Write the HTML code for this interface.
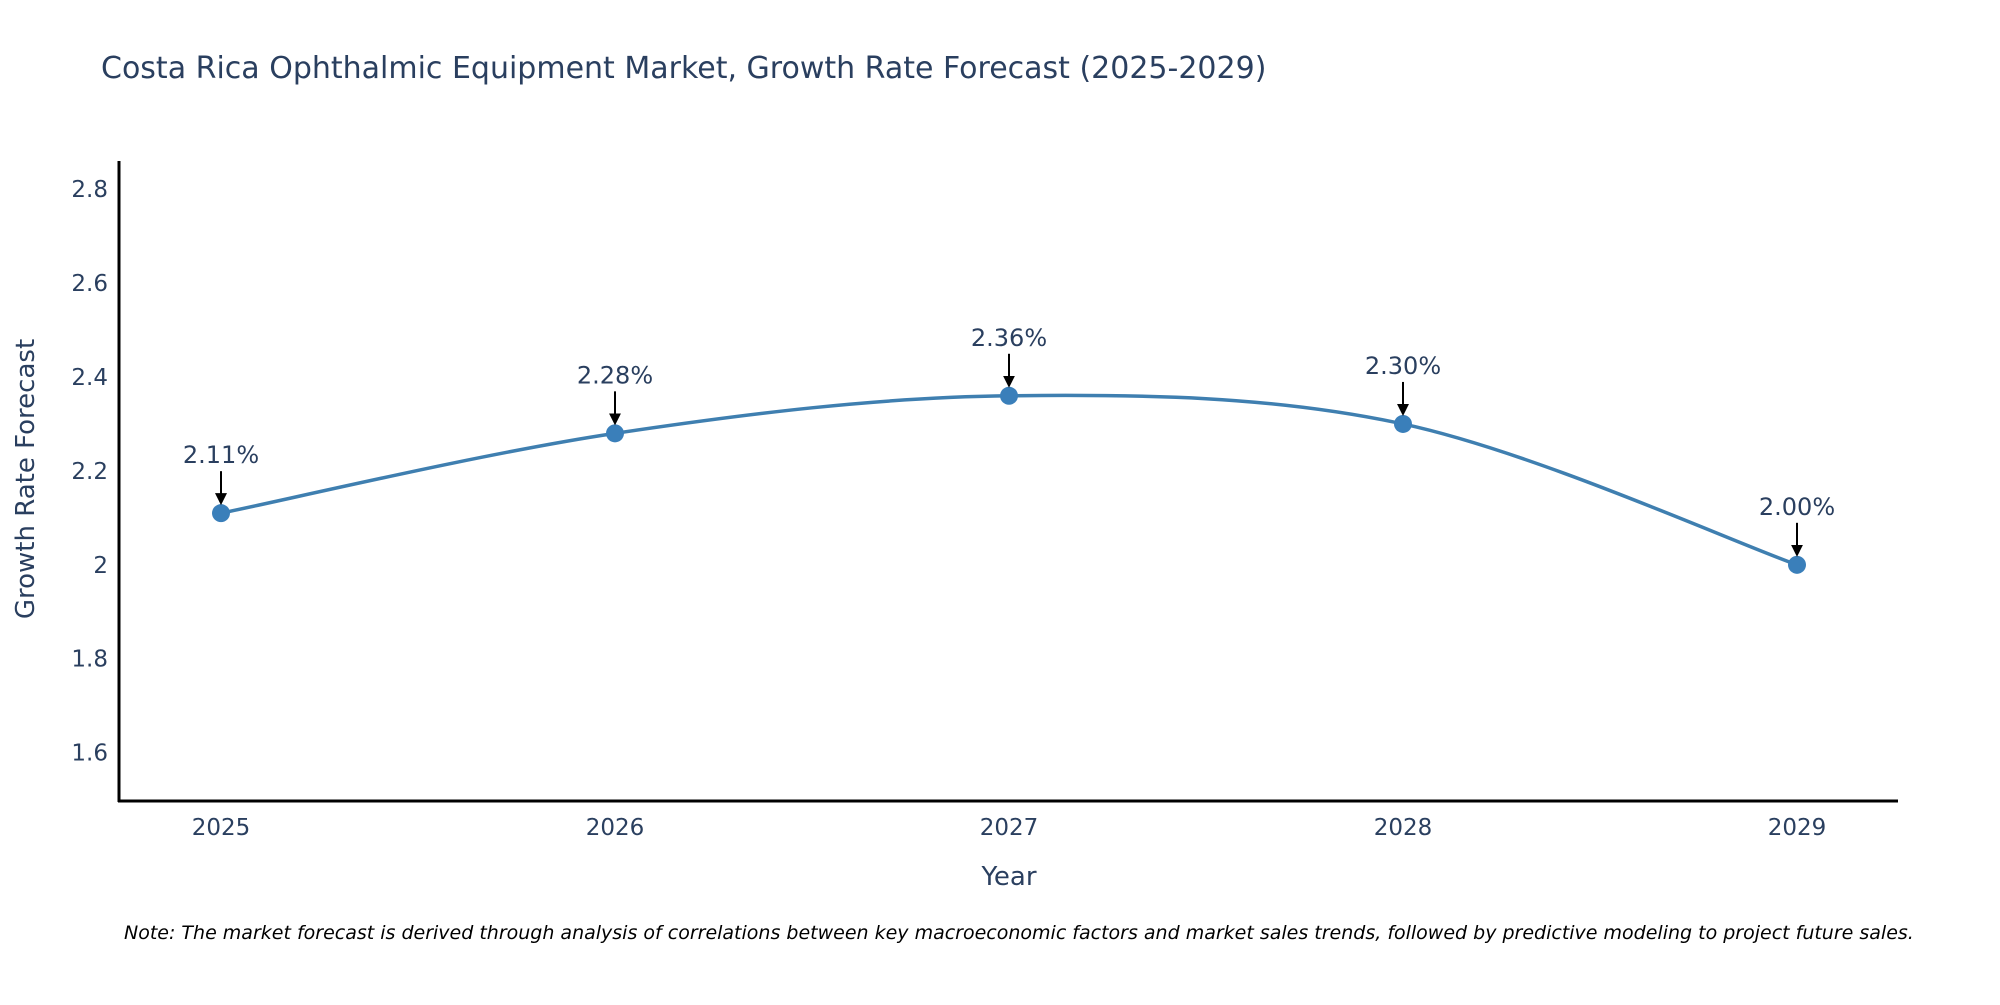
<!DOCTYPE html>
<html><head><meta charset="utf-8"><style>
body{margin:0;background:#fff}
svg text{font-family:"DejaVu Sans","Liberation Sans",sans-serif;fill:#2a3f5f}
</style></head><body>
<svg id="chart" width="2000" height="1000" viewBox="0 0 2000 1000" xmlns="http://www.w3.org/2000/svg">
<text x="101" y="78" font-size="30">Costa Rica Ophthalmic Equipment Market, Growth Rate Forecast (2025-2029)</text>
<g id="yticks"></g><g id="xticks"></g>
<line x1="119" y1="161" x2="119" y2="802" stroke="#000" stroke-width="3"/>
<line x1="118" y1="801" x2="1898" y2="801" stroke="#000" stroke-width="3"/>
<path id="line" fill="none" stroke="#3f7fb0" stroke-width="3.5"/>
<g id="points"></g><g id="annots"></g>
<text x="1009" y="885" font-size="26" text-anchor="middle">Year</text>
<text transform="translate(34,479) rotate(-90)" font-size="26" text-anchor="middle">Growth Rate Forecast</text>
<text x="124" y="939" font-size="19" font-style="italic" style="fill:#000">Note: The market forecast is derived through analysis of correlations between key macroeconomic factors and market sales trends, followed by predictive modeling to project future sales.</text>
<defs><marker id="ah" markerWidth="6" markerHeight="6" refX="5" refY="3" orient="auto" markerUnits="strokeWidth"><path d="M0,0 L6,3 L0,6 Z" fill="#000"/></marker></defs>
</svg>
<script>
const years=[2025,2026,2027,2028,2029];
const values=[2.11,2.28,2.36,2.30,2.00];
const labels=["2.11%","2.28%","2.36%","2.30%","2.00%"];
const yTicks=[1.6,1.8,2.0,2.2,2.4,2.6,2.8];
const yTickLabels=["1.6","1.8","2","2.2","2.4","2.6","2.8"];
const NS="http://www.w3.org/2000/svg";
const X=v=>221+(v-2025)*394;
const Y=v=>801-(v-1.497)/(2.86-1.497)*640;
function mk(t,a,p){const e=document.createElementNS(NS,t);for(const k in a)e.setAttribute(k,a[k]);p.appendChild(e);return e;}
const yt=document.getElementById('yticks');
yTicks.forEach((v,i)=>{const t=mk('text',{x:108,y:Y(v)+8,'font-size':23,'text-anchor':'end'},yt);


t.textContent=yTickLabels[i];});
const xt=document.getElementById('xticks');
years.forEach(v=>{const t=mk('text',{x:X(v),y:835,'font-size':23,'text-anchor':'middle'},xt);


t.textContent=v;});
const pts=years.map((y,i)=>[X(y),Y(values[i])]);
let d='M'+pts[0][0]+','+pts[0][1];
for(let i=0;i<pts.length-1;i++){const p0=pts[Math.max(0,i-1)],p1=pts[i],p2=pts[i+1],p3=pts[Math.min(pts.length-1,i+2)];const s=1/6;
d+=` C${p1[0]+(p2[0]-p0[0])*s},${p1[1]+(p2[1]-p0[1])*s} ${p2[0]-(p3[0]-p1[0])*s},${p2[1]-(p3[1]-p1[1])*s} ${p2[0]},${p2[1]}`;}
document.getElementById('line').setAttribute('d',d);
const pg=document.getElementById('points'),ag=document.getElementById('annots');
pts.forEach((p,i)=>{const c=mk('circle',{cx:p[0],cy:p[1],r:9,fill:'#3a7fba'},pg);


const l=mk('line',{x1:p[0],y1:p[1]-42,x2:p[0],y2:p[1]-10,stroke:'#000','stroke-width':2,'marker-end':'url(#ah)'},ag);


const t=mk('text',{x:p[0],y:p[1]-50,'font-size':24,'text-anchor':'middle'},ag);


t.textContent=labels[i];});
</script>
</body></html>
